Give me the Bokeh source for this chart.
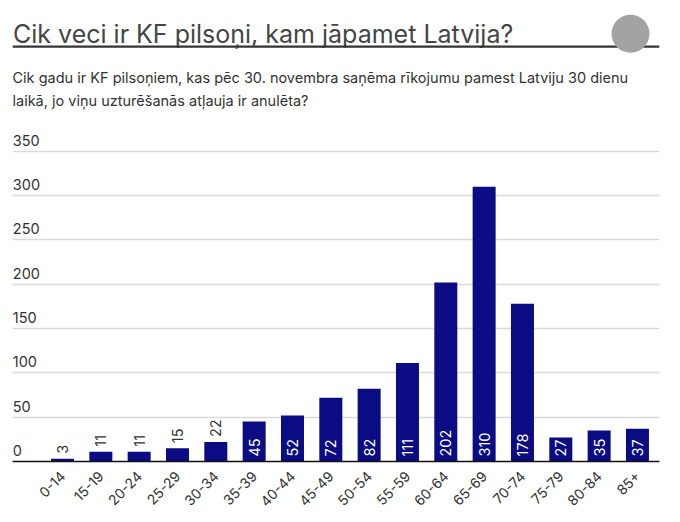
import math
from bokeh.plotting import figure
from bokeh.layouts import column
from bokeh.models import Range1d, FixedTicker, ColumnDataSource
from bokeh.core.properties import value
from bokeh.embed import file_html
from bokeh.resources import INLINE

# ---- data ----
categories = ["0-14", "15-19", "20-24", "25-29", "30-34", "35-39", "40-44", "45-49",
              "50-54", "55-59", "60-64", "65-69", "70-74", "75-79", "80-84", "85+"]
counts = [3, 11, 11, 15, 22, 45, 52, 72, 82, 111, 202, 310, 178, 27, 35, 37]
y_ticks = [0, 50, 100, 150, 200, 250, 300, 350]
title_text = "Cik veci ir KF pilsoņi, kam jāpamet Latvija?"
subtitle_lines = [
    "Cik gadu ir KF pilsoņiem, kas pēc 30. novembra saņēma rīkojumu pamest Latviju 30 dienu",
    "laikā, jo viņu uzturēšanās atļauja ir anulēta?",
]

FONT = value("Inter")
TXT = "#333333"
BAR = "#0b0b83"

FL, FR = 12, 659          # frame left / right on the page
FW = FR - FL

# ---- header ----
HH = 120
head = figure(frame_width=FW, frame_height=HH, x_range=Range1d(FL, FR), y_range=Range1d(HH, 0),
              output_backend="svg", toolbar_location=None,
              min_border_left=FL, min_border_right=13, min_border_top=0, min_border_bottom=0,
              x_axis_location=None, y_axis_location=None)
head.grid.visible = False
head.outline_line_color = None

head.text(x=[12.5], y=[33], text=[title_text], text_font=FONT,
          text_font_size="25px", text_color="#454545", text_baseline="alphabetic",
          text_align="left")
head.line(x=[12, 659], y=[46.2, 46.2], line_color=TXT, line_width=2.2)
head.scatter(x=[630], y=[33.3], size=38, marker="circle", fill_color="#a3a3a3", line_color=None)
head.text(x=[12, 12], y=[77, 99.5], text=subtitle_lines, text_font=FONT, text_font_size="14.5px",
          text_color=TXT, text_baseline="alphabetic", text_align="left")

# ---- chart ----
idx = list(range(len(categories)))
p = figure(frame_width=FW, frame_height=331,
           x_range=Range1d(-1.3045, 15.575), y_range=Range1d(0, 373.3),
           output_backend="svg", toolbar_location=None,
           min_border_left=FL, min_border_right=13, min_border_top=10, min_border_bottom=4,
           y_axis_location=None)
p.extra_x_ranges = {"px": Range1d(0, FW)}
p.outline_line_color = None
p.xgrid.visible = False
p.ygrid.ticker = FixedTicker(ticks=y_ticks)
p.ygrid.grid_line_color = "#dadada"
p.ygrid.grid_line_width = 1.5

p.vbar(x=idx, top=counts, width=0.6, fill_color=BAR, line_color=None)

xa = p.xaxis[0]
xa.ticker = FixedTicker(ticks=idx)
xa.major_label_overrides = {i: c for i, c in zip(idx, categories)}
xa.major_label_orientation = math.pi / 4
xa.major_tick_line_color = None
xa.minor_tick_line_color = None
xa.axis_line_color = "#111111"
xa.axis_line_width = 1.5
xa.major_label_text_font = "Inter"
xa.major_label_text_font_size = "14px"
xa.major_label_text_color = TXT
xa.major_label_standoff = 6

# y tick labels (above grid lines, left aligned)
p.text(x=[0.3] * len(y_ticks), y=y_ticks, text=[str(t) for t in y_ticks],
       x_range_name="px", text_font=FONT, text_font_size="14.5px", text_color=TXT,
       text_align="left", text_baseline="alphabetic", y_offset=-11)

# value labels
inside = [i for i, v in zip(idx, counts) if v >= 25]
outside = [i for i, v in zip(idx, counts) if v < 25]
src_in = ColumnDataSource(dict(x=inside, y=[0] * len(inside),
                               t=[str(counts[i]) for i in inside]))
src_out = ColumnDataSource(dict(x=outside, y=[counts[i] for i in outside],
                                t=[str(counts[i]) for i in outside]))
p.text(x="x", y="y", text="t", source=src_in, angle=math.pi / 2, text_font=FONT,
       text_font_size="14.5px", text_color="white", text_align="left",
       text_baseline="middle", y_offset=-5)
p.text(x="x", y="y", text="t", source=src_out, angle=math.pi / 2, text_font=FONT,
       text_font_size="14.5px", text_color=TXT, text_align="left",
       text_baseline="middle", y_offset=-5)

layout = column(head, p, spacing=0)
open("out.html", "w").write(file_html(layout, INLINE))
